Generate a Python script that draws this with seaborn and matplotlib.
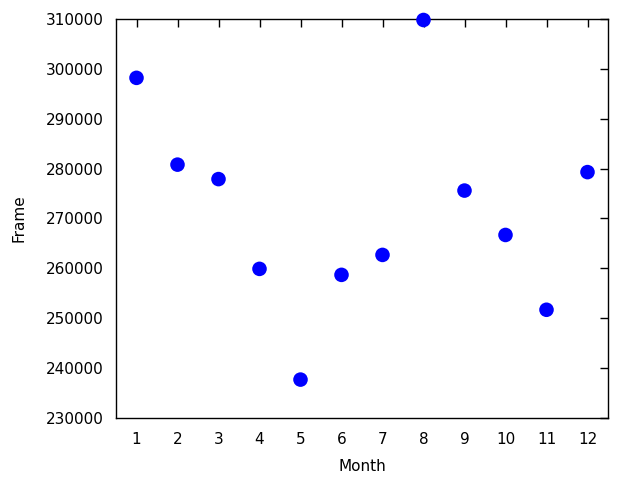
import matplotlib
matplotlib.use("Agg")
import matplotlib.pyplot as plt
import seaborn as sns
import pandas as pd

months = [1, 2, 3, 4, 5, 6, 7, 8, 9, 10, 11, 12]
frames = [298200, 280800, 277900, 259900, 237700, 258700,
          262700, 309800, 275600, 266700, 251700, 279300]

sns.set_style("white")
plt.rcParams['font.family'] = ['DejaVu Sans']
plt.rcParams['text.color'] = 'black'
plt.rcParams['axes.labelcolor'] = 'black'

df = pd.DataFrame({'Month': months, 'Frame': frames})

fig = plt.figure(figsize=(6.4, 4.8), dpi=100)
ax = fig.add_axes([116 / 640, 62 / 480, 492 / 640, 399 / 480])
sns.scatterplot(data=df, x='Month', y='Frame', ax=ax, color='#0000ff',
                s=110, edgecolor='none', clip_on=False, zorder=3)

ax.set_xlim(0.5, 12.5)
ax.set_ylim(230000, 310000)
ax.set_xticks(months)
ax.set_yticks(range(230000, 310001, 10000))
ax.tick_params(direction='in', length=6, width=1, top=True, right=True,
               labelsize=11, colors='black')
ax.tick_params(axis='x', pad=10)
ax.tick_params(axis='y', pad=9)
for s in ax.spines.values():
    s.set_color('black')
    s.set_linewidth(1)
ax.set_xlabel('Month', fontsize=11, labelpad=9)
ax.set_ylabel('Frame', fontsize=11, labelpad=14)

fig.savefig('out.png', dpi=100)
